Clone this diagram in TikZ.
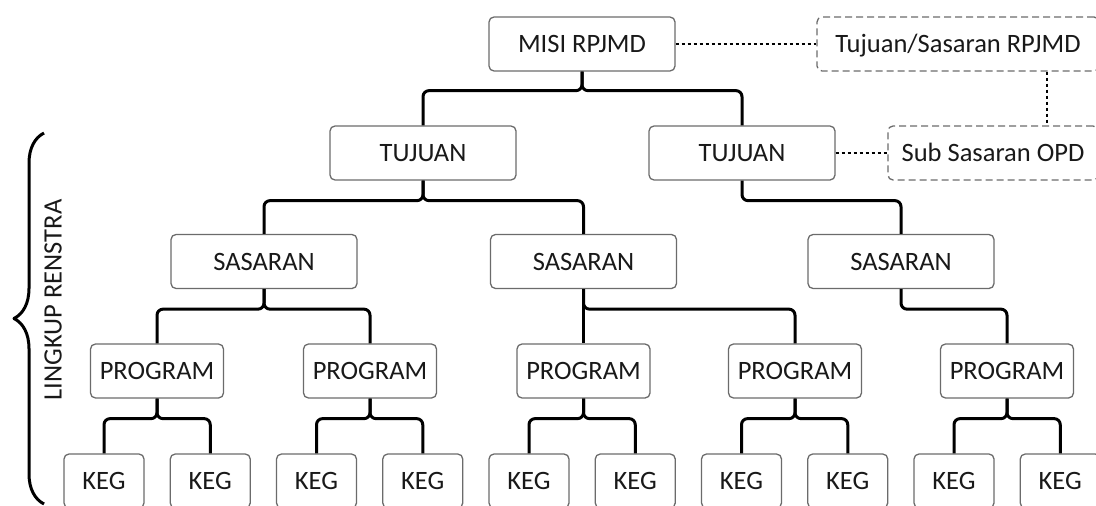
\documentclass[tikz,border=0pt]{standalone}
\usepackage{fontspec}
\setmainfont{Carlito}
\usetikzlibrary{decorations.pathreplacing}

\begin{document}
\begin{tikzpicture}[x=1pt, y=-1pt, line join=round,
  box/.style={draw=black!58, line width=1.3pt, rounded corners=5pt,
              minimum height=54pt, inner sep=0pt, text=black!90,
              text height=17pt, text depth=0pt,
              font=\fontsize{26.5}{30}\selectfont},
  dbox/.style={box, dash pattern=on 7pt off 4pt},
  link/.style={line width=3pt, rounded corners=6pt},
  dotlink/.style={line width=2.7pt, dash pattern=on 3.5pt off 2.5pt}]

  \useasboundingbox (0,0) rectangle (1096,506);
  \clip (0,0) rectangle (1096,506);

  %--- Top level -----------------------------------------------------------
  \node[box, minimum width=186pt] (misi) at (582,44) {MISI RPJMD};
  \node[dbox, minimum width=282pt] (tsr) at (958,44) {Tujuan/Sasaran RPJMD};
  \node[dbox, minimum width=210pt] (sub) at (993,153) {Sub Sasaran OPD};

  %--- Tujuan --------------------------------------------------------------
  \node[box, minimum width=186pt] (tujuanA) at (423,153) {TUJUAN};
  \node[box, minimum width=186pt] (tujuanB) at (742,153) {TUJUAN};

  %--- Sasaran -------------------------------------------------------------
  \node[box, minimum width=186pt] (sasaranA) at (264,261.5) {SASARAN};
  \node[box, minimum width=186pt] (sasaranB) at (583.5,261.5) {SASARAN};
  \node[box, minimum width=186pt] (sasaranC) at (901,261.5) {SASARAN};

  %--- Program -------------------------------------------------------------
  \foreach \name/\xx in {progA/157, progB/370, progC/583.5, progD/795, progE/1007}
    \node[box, minimum width=133pt] (\name) at (\xx,371) {PROGRAM};

  %--- Kegiatan ------------------------------------------------------------
  \foreach \i in {0,...,9}
    \node[box, minimum width=80pt] (keg\i) at ({104+106.25*\i},481) {KEG};

  %--- Tree links ----------------------------------------------------------
  \draw[link] (misi.south) -- ++(0,19) -| (tujuanA.north);
  \draw[link] (misi.south) -- ++(0,19) -| (tujuanB.north);
  \draw[link] (tujuanA.south) -- ++(0,20) -| (sasaranA.north);
  \draw[link] (tujuanA.south) -- ++(0,20) -| (sasaranB.north);
  \draw[link] (tujuanB.south) -- ++(0,20) -| (sasaranC.north);
  \draw[link] (sasaranA.south) -- ++(0,20) -| (progA.north);
  \draw[link] (sasaranA.south) -- ++(0,20) -| (progB.north);
  \draw[link] (sasaranB.south) -- (progC.north);
  \draw[link] (sasaranB.south) -- ++(0,20) -| (progD.north);
  \draw[link] (sasaranC.south) -- ++(0,20) -| (progE.north);
  \foreach \p/\a/\b in {progA/0/1, progB/2/3, progC/4/5, progD/6/7, progE/8/9} {
    \draw[link] (\p.south) -- ++(0,20) -| (keg\a.north);
    \draw[link] (\p.south) -- ++(0,20) -| (keg\b.north);
  }

  %--- Dotted links --------------------------------------------------------
  \draw[dotlink] (misi.east) -- (tsr.west);
  \draw[dotlink] ([xshift=89pt]tsr.south) -- ([xshift=89pt]tsr.south |- sub.north);
  \draw[dotlink] (tujuanB.east) -- (sub.west);

  %--- Brace ---------------------------------------------------------------
  \draw[line width=3pt, decorate, decoration={brace, amplitude=30pt}]
       (44,504) -- (44,133);
  \node[rotate=90, text=black!90, font=\fontsize{26.5}{30}\selectfont]
       (lingkup) at (53,300) {LINGKUP RENSTRA};

\end{tikzpicture}
\end{document}
